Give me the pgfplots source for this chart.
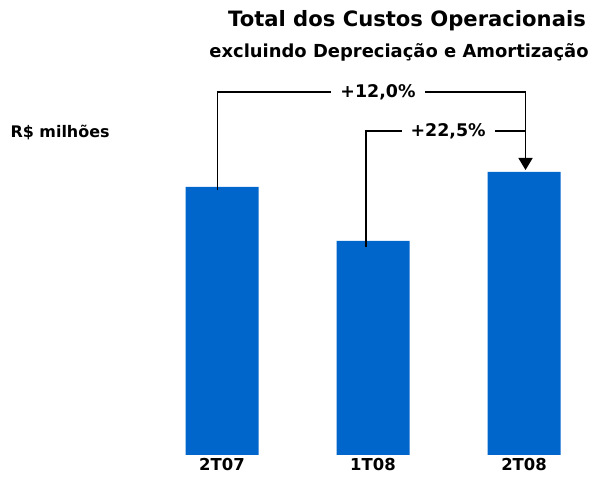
\documentclass[border=0pt]{standalone}
\usepackage{pgfplots}
\pgfplotsset{compat=1.18}
\usepackage{fontspec}
\setmainfont{DejaVu Sans}
\usetikzlibrary{arrows.meta}
\definecolor{barblue}{RGB}{0,102,204}
\begin{document}
\begin{tikzpicture}[x=1bp,y=1bp]
\path (0,0) rectangle (591,490);
\begin{axis}[
  at={(146.5bp,35bp)}, anchor=south west,
  scale only axis, width=453bp, height=300bp,
  xmin=-0.5, xmax=2.5, ymin=0, ymax=300,
  axis line style={draw=none}, ytick=\empty,
  xtick={0,1,2}, xticklabels={2T07,1T08,2T08},
  major tick length=0pt,
  xticklabel style={font=\bfseries\fontsize{16.5}{18}\selectfont, yshift=0bp},
  clip=false,
  ybar, bar width=73bp,
]
\addplot[fill=barblue, draw=none] coordinates {(0,268) (1,214) (2,283)};
\draw[line width=1.6bp] (axis cs:-0.03,265) -- (axis cs:-0.03,363) -- (axis cs:2.01,363) -- (axis cs:2.01,296);
\draw[line width=1.6bp, -{Triangle[width=14bp,length=12bp]}] (axis cs:2.01,300) -- (axis cs:2.01,285);
\draw[line width=1.6bp] (axis cs:0.955,208) -- (axis cs:0.955,324) -- (axis cs:2.01,324);
\node[fill=white, inner xsep=9bp, inner ysep=1bp, font=\bfseries\fontsize{17.5}{19}\selectfont] at (axis cs:1.033,363) {+12,0\%};
\node[fill=white, inner xsep=9bp, inner ysep=1bp, font=\bfseries\fontsize{17.5}{19}\selectfont] at (axis cs:1.497,324) {+22,5\%};
\end{axis}
\node[font=\bfseries\fontsize{21.2}{24}\selectfont] at (407,469) {Total dos Custos Operacionais};
\node[font=\bfseries\fontsize{18}{20}\selectfont] at (399,438) {excluindo Depreciação e Amortização};
\node[anchor=west, font=\bfseries\fontsize{16}{18}\selectfont] at (7,358) {R\$ milhões};
\pgfresetboundingbox
\path (0,0) rectangle (591,490);
\end{tikzpicture}
\end{document}
